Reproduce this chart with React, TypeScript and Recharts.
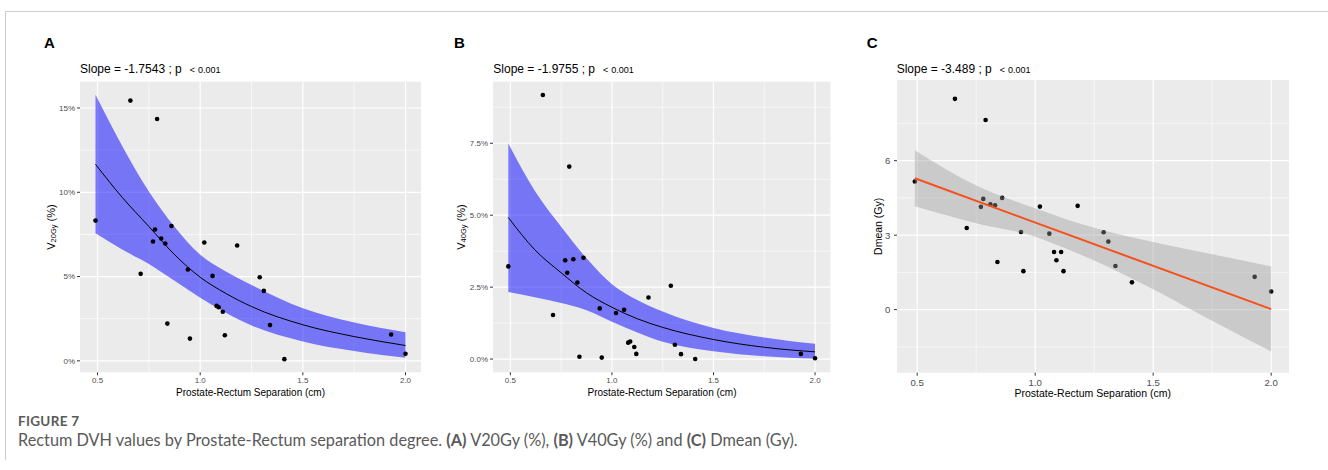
import { ComposedChart, XAxis, YAxis, CartesianGrid, Area, Line, Scatter } from "recharts";

// Prostate-rectum separation (cm), one value per patient
const separation = [0.49, 0.66, 0.71, 0.77, 0.78, 0.79, 0.81, 0.83, 0.84, 0.86, 0.94, 0.95, 1.02, 1.06, 1.08, 1.09, 1.11, 1.12, 1.18, 1.29, 1.31, 1.34, 1.41, 1.93, 2.0];
const v20 = [8.32, 15.44, 5.16, 7.08, 7.79, 14.35, 7.26, 6.96, 2.21, 8.0, 5.42, 1.32, 7.02, 5.04, 3.26, 3.18, 2.91, 1.52, 6.84, 4.96, 4.15, 2.12, 0.1, 1.56, 0.42];
const v40 = [3.22, 9.18, 1.53, 3.43, 3.0, 6.69, 3.47, 2.66, 0.08, 3.52, 1.76, 0.05, 1.6, 1.71, 0.57, 0.61, 0.42, 0.18, 2.14, 2.55, 0.5, 0.17, 0.0, 0.18, 0.03];
const dmean = [5.16, 8.49, 3.29, 4.14, 4.46, 7.64, 4.24, 4.2, 1.92, 4.5, 3.13, 1.55, 4.15, 3.06, 2.32, 1.99, 2.32, 1.55, 4.18, 3.12, 2.74, 1.76, 1.1, 1.32, 0.73];

// fitted curves and confidence bands
const curveX = [0.49, 0.62, 0.75, 0.875, 1.0, 1.125, 1.25, 1.5, 1.75, 2.0];
const v20Fit = [11.66, 9.7, 7.97, 6.3, 4.96, 4.0, 3.22, 2.14, 1.44, 0.91];
const v20Hi = [15.78, 12.75, 10.04, 7.95, 6.29, 5.3, 4.5, 3.12, 2.27, 1.7];
const v20Lo = [7.57, 6.6, 5.75, 4.75, 3.75, 2.85, 2.1, 1.15, 0.58, 0.18];
const v40Fit = [4.92, 3.8, 3.0, 2.3, 1.8, 1.4, 1.1, 0.68, 0.41, 0.25];
const v40Hi = [7.49, 5.85, 4.6, 3.5, 2.6, 2.05, 1.65, 1.08, 0.75, 0.53];
const v40Lo = [2.33, 2.15, 1.95, 1.7, 1.3, 0.92, 0.6, 0.27, 0.1, 0.02];

const lineX = [0.49, 0.75, 1.0, 1.125, 1.25, 1.5, 1.75, 2.0];
const dmeanHi = [6.42, 5.0, 4.08, 3.66, 3.3, 2.72, 2.23, 1.74];
const dmeanLo = [4.16, 3.48, 2.94, 2.48, 1.98, 0.82, -0.45, -1.69];
const dmeanFitX = [0.49, 2.0];
const dmeanFit = [5.29, 0.02];

const xTicks = [0.5, 1.0, 1.5, 2.0];
const xMinor = [0.75, 1.25, 1.75];

const FONT = "'Liberation Sans', Arial, Helvetica, sans-serif";

type PanelSpec = {
  left: number; right: number; top: number; bottom: number;
  yDomain: [number, number];
  yTicks: number[]; yMinor: number[];
  yFormat: (v: number) => string;
  tickFont: number; tickGap: number;
  points: number[];
  bandX: number[]; bandLo: number[]; bandHi: number[];
  fitX: number[]; fitY: number[];
  ribbon: string; ribbonOpacity: number;
  lineColor: string; lineWidth: number;
  ribbonOverPoints: boolean;
};

const panels: PanelSpec[] = [
  {
    left: 80, right: 421, top: 81.7, bottom: 372.3,
    yDomain: [-0.68, 16.56], yTicks: [0, 5, 10, 15], yMinor: [2.5, 7.5, 12.5],
    yFormat: (v) => `${v}%`, tickFont: 8, tickGap: 2,
    points: v20, bandX: curveX, bandLo: v20Lo, bandHi: v20Hi, fitX: curveX, fitY: v20Fit,
    ribbon: "#0000ff", ribbonOpacity: 0.5, lineColor: "#000000", lineWidth: 1, ribbonOverPoints: false,
  },
  {
    left: 493.3, right: 830.7, top: 81.7, bottom: 372.3,
    yDomain: [-0.46, 9.64], yTicks: [0, 2.5, 5, 7.5], yMinor: [1.25, 3.75, 6.25, 8.75],
    yFormat: (v) => `${v.toFixed(1)}%`, tickFont: 8, tickGap: 2,
    points: v40, bandX: curveX, bandLo: v40Lo, bandHi: v40Hi, fitX: curveX, fitY: v40Fit,
    ribbon: "#0000ff", ribbonOpacity: 0.5, lineColor: "#000000", lineWidth: 1, ribbonOverPoints: false,
  },
  {
    left: 896.7, right: 1288.7, top: 80, bottom: 372.7,
    yDomain: [-2.54, 9.25], yTicks: [0, 3, 6], yMinor: [-1.5, 1.5, 4.5, 7.5],
    yFormat: (v) => `${v}`, tickFont: 9.6, tickGap: 3.6,
    points: dmean, bandX: lineX, bandLo: dmeanLo, bandHi: dmeanHi, fitX: dmeanFitX, fitY: dmeanFit,
    ribbon: "#999999", ribbonOpacity: 0.4, lineColor: "#F4511E", lineWidth: 2, ribbonOverPoints: true,
  },
];

const titles = ["Slope = -1.7543 ; p", "Slope = -1.9755 ; p", "Slope = -3.489 ; p"];
const letters = ["A", "B", "C"];
const letterX = [44, 454, 866.7];
const ySub = ["20Gy", "40Gy", ""];
const yTitleX = [50.5, 461, 877.5];

const dot = (p: any) => <circle cx={p.cx} cy={p.cy} r={2.3} fill="#000000" />;

function Panel({ spec }: { spec: PanelSpec }) {
  const Y_W = 60, X_H = 20, H = 410, R = 5;
  const width = spec.right - spec.left + Y_W + R;
  const pts = separation.map((x, i) => ({ x, y: spec.points[i] }));
  const band = spec.bandX.map((x, i) => ({ x, range: [spec.bandLo[i], spec.bandHi[i]] }));
  const fit = spec.fitX.map((x, i) => ({ x, fit: spec.fitY[i] }));
  const tick = { fill: "#4D4D4D", fontSize: spec.tickFont, fontFamily: FONT };

  const scatter = (
    <Scatter key="pts" data={pts} dataKey="y" shape={dot} isAnimationActive={false}
             zIndex={spec.ribbonOverPoints ? 90 : 600} />
  );
  const area = (
    <Area key="band" data={band} dataKey="range" type="monotone" stroke="none"
          fill={spec.ribbon} fillOpacity={spec.ribbonOpacity} isAnimationActive={false}
          dot={false} activeDot={false} />
  );
  const line = (
    <Line key="fit" data={fit} dataKey="fit" type="monotone" stroke={spec.lineColor}
          strokeWidth={spec.lineWidth} dot={false} activeDot={false} isAnimationActive={false} />
  );

  return (
    <div style={{ position: "absolute", left: spec.left - Y_W, top: 0 }}>
      <ComposedChart width={width} height={H}
                     margin={{ top: spec.top, right: R, bottom: H - spec.bottom - X_H, left: 0 }}>
        <CartesianGrid horizontalValues={spec.yMinor} verticalValues={xMinor}
                       stroke="#ffffff" strokeWidth={0.6} fill="#EBEBEB" fillOpacity={1} />
        <CartesianGrid horizontalValues={spec.yTicks} verticalValues={xTicks}
                       stroke="#ffffff" strokeWidth={1.2} />
        <XAxis type="number" dataKey="x" domain={[0.4145, 2.0755]} ticks={xTicks}
               allowDataOverflow interval={0} height={X_H} axisLine={false}
               tickSize={3} tickMargin={spec.tickGap} tick={tick}
               tickLine={{ stroke: "#333333" }} tickFormatter={(v: number) => v.toFixed(1)} />
        <YAxis type="number" domain={spec.yDomain} ticks={spec.yTicks} allowDataOverflow
               interval={0} width={Y_W} axisLine={false} tickSize={3} tickMargin={spec.tickGap}
               tick={tick} tickLine={{ stroke: "#333333" }} tickFormatter={spec.yFormat} />
        {spec.ribbonOverPoints ? [scatter, area, line] : [area, line, scatter]}
      </ComposedChart>
    </div>
  );
}

export default function App() {
  return (
    <div style={{ position: "absolute", left: 0, top: 0, width: 1328, height: 470, background: "#ffffff", overflow: "hidden" }}>
      {panels.map((p, i) => <Panel key={i} spec={p} />)}

      <svg width={1328} height={470} style={{ position: "absolute", left: 0, top: 0, pointerEvents: "none" }}>
        <line x1={5} y1={11.5} x2={1328} y2={11.5} stroke="#cccccc" strokeWidth={1} />
        <line x1={5.5} y1={11} x2={5.5} y2={460} stroke="#cccccc" strokeWidth={1} />
        {panels.map((p, i) => (
          <g key={i} fontFamily={FONT}>
            <text x={letterX[i]} y={48.3} fontSize={15} fontWeight={700} fill="#000">{letters[i]}</text>
            <text x={p.left} y={73.3} fontSize={12} fill="#000">
              {titles[i]}
              <tspan fontSize={9} dx={8}>&lt;</tspan>
              <tspan fontSize={9} dx={3}>0.001</tspan>
            </text>
            <text transform={`translate(${yTitleX[i]},${(p.top + p.bottom) / 2}) rotate(-90)`}
                  textAnchor="middle" dominantBaseline="central" fontSize={i === 2 ? 10.5 : 11} fill="#000">
              {ySub[i] ? (
                <>
                  V<tspan fontSize={7.5} dy={2}>{ySub[i]}</tspan><tspan dy={-2}> (%)</tspan>
                </>
              ) : "Dmean (Gy)"}
            </text>
            <text x={(p.left + p.right) / 2} y={392.7} textAnchor="middle" dominantBaseline="central"
                  fontSize={i === 2 ? 10.5 : 10} fill="#000">Prostate-Rectum Separation (cm)</text>
          </g>
        ))}
      </svg>

      <div style={{ position: "absolute", left: 18, top: 413, fontFamily: "Lato, 'Open Sans', sans-serif",
                    fontSize: 13.5, fontWeight: 700, color: "#5a5a5a", letterSpacing: 0.3 }}>
        FIGURE 7
      </div>
      <div style={{ position: "absolute", left: 18, top: 430, fontFamily: "Lato, 'Open Sans', sans-serif",
                    fontSize: 16.3, color: "#5a5a5a", whiteSpace: "nowrap" }}>
        Rectum DVH values by Prostate-Rectum separation degree. <b>(A)</b> V20Gy (%), <b>(B)</b> V40Gy (%) and <b>(C)</b> Dmean (Gy).
      </div>
    </div>
  );
}
